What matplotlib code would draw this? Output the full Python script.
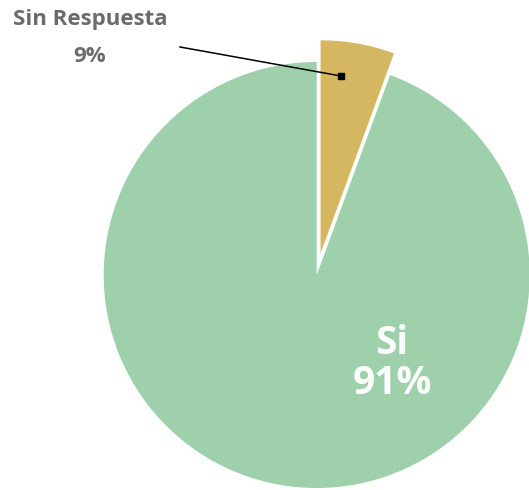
import matplotlib
matplotlib.use("Agg")
import matplotlib.pyplot as plt

categories = ["Sin Respuesta", "Si"]
# slice sizes as drawn in the picture (percent of the circle)
drawn_sizes = [5.6, 94.4]
label_values = ["9%", "91%"]
colors = ["#D6B761", "#9DD0AB"]

W, H = 529, 490
fig = plt.figure(figsize=(W / 100, H / 100), dpi=100)
ax = fig.add_axes([0, 0, 1, 1])

cx, cy, r = 316.7, H - 275, 213
ax.pie(drawn_sizes, colors=colors, startangle=90, counterclock=False,
       explode=[22, 0], center=(cx, cy), radius=r,
       wedgeprops=dict(edgecolor="none", linewidth=0), frame=True)
ax.set_xlim(0, W)
ax.set_ylim(0, H)
ax.set_aspect("equal")
ax.axis("off")

font = ["Open Sans", "DejaVu Sans"]
ax.text(392, H - 343, categories[1], color="white", fontsize=28, fontweight="bold",
        family=font, ha="center", va="center")
ax.text(392, H - 384, label_values[1], color="white", fontsize=28, fontweight="bold",
        family=font, ha="center", va="center")

ax.text(90, H - 20, categories[0], color="#6B6B6B", fontsize=16, fontweight="bold",
        family=font, ha="center", va="center")
ax.text(90, H - 57, label_values[0], color="#6B6B6B", fontsize=16, fontweight="bold",
        family=font, ha="center", va="center")

ax.plot([180, 341], [H - 47, H - 76], color="black", lw=1.1)
ax.plot([341], [H - 76], marker="s", color="black", markersize=5)

fig.savefig("out.png", dpi=100)
